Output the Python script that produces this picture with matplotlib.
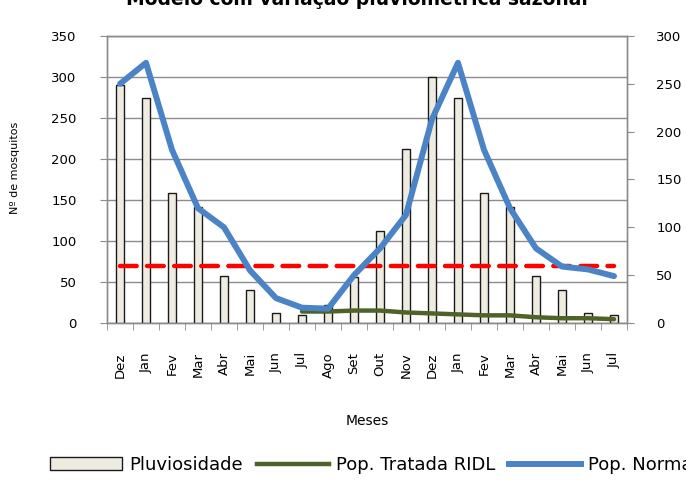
import numpy as np
import matplotlib
matplotlib.use("Agg")
import matplotlib.pyplot as plt
from matplotlib.patches import Patch
from matplotlib.lines import Line2D

# data
meses = ["Dez", "Jan", "Fev", "Mar", "Abr", "Mai", "Jun", "Jul", "Ago", "Set",
         "Out", "Nov", "Dez", "Jan", "Fev", "Mar", "Abr", "Mai", "Jun", "Jul"]
pluviosidade = [290, 274, 159, 142, 57, 40, 12, 10, 22, 56,
                112, 212, 300, 274, 159, 142, 57, 40, 12, 10]
pop_normal = [250, 272, 181, 120, 100, 55, 26, 16, 15, 50,
              78, 113, 213, 272, 181, 120, 78, 59, 56, 49]
ridl_meses = list(range(7, 20))
pop_ridl = [12, 12, 13, 13, 11, 10, 9, 8, 8, 6, 5, 5, 4]
limiar = 60

plt.rcParams["font.family"] = ["DejaVu Sans"]
plt.rcParams["lines.scale_dashes"] = False

W, H = 686, 480
fig = plt.figure(figsize=(W / 100, H / 100), dpi=100)
ax = fig.add_axes([107 / W, 1 - 323 / H, 520 / W, 287 / H])
ax2 = ax.twinx()

x = np.arange(len(meses))
ax.bar(x, pluviosidade, width=0.32, color="#EEECE1", edgecolor="#1a1a1a",
       linewidth=1.0, zorder=3, label="Pluviosidade")

ax.set_xlim(-0.5, len(meses) - 0.5)
ax.set_ylim(0, 350)
ax.set_yticks(range(0, 351, 50))
ax.grid(axis="y", color="#8c8c8c", linewidth=1.0, zorder=0)
ax.set_axisbelow(True)

ax2.set_ylim(0, 300)
ax2.set_yticks(range(0, 301, 50))

ax2.plot([0, len(meses) - 1], [limiar, limiar], color="#ff0000", linewidth=3.2,
         dashes=(12, 7.5), dash_capstyle="round", zorder=2)
ax2.plot(ridl_meses, pop_ridl, color="#4F6228", linewidth=3.2, zorder=3,
         solid_capstyle="round")
ax2.plot(x, pop_normal, color="#4A84C6", linewidth=4.3, zorder=4,
         solid_capstyle="round", solid_joinstyle="round")

for a in (ax, ax2):
    for s in a.spines.values():
        s.set_color("#8c8c8c")
        s.set_linewidth(1.0)

ax.set_xticks(x)
ax.set_xticklabels(meses, rotation=90, fontsize=9.5)
ax.set_xticks(np.arange(-0.5, len(meses), 1), minor=True)
ax.tick_params(axis="x", which="major", length=0, pad=21)
ax.tick_params(axis="x", which="minor", length=5, color="#8c8c8c", direction="out")
ax.tick_params(axis="y", length=5, color="#8c8c8c", pad=17, labelsize=9.5)
ax2.tick_params(axis="y", length=5, color="#8c8c8c", pad=16, labelsize=9.5)

fig.text(15 / W, 1 - 168 / H, "Nº de mosquitos", rotation=90, ha="center",
         va="center", fontsize=8)
fig.text(367 / W, 1 - 421 / H, "Meses", ha="center", va="center", fontsize=10)
fig.text(357 / W, 1 - 5 / H, "Modelo com variação pluviométrica sazonal",
         ha="center", va="baseline", fontsize=13.5, fontweight="bold")

handles = [
    Patch(facecolor="#EEECE1", edgecolor="#1a1a1a", linewidth=1.0, label="Pluviosidade"),
    Line2D([], [], color="#4F6228", linewidth=3.2, label="Pop. Tratada RIDL"),
    Line2D([], [], color="#4A84C6", linewidth=4.3, label="Pop. Normal"),
]
fig.legend(handles=handles, loc="center left", bbox_to_anchor=(50 / W, 1 - 465 / H),
           ncol=3, frameon=False, fontsize=13, handlelength=4.0,
           handletextpad=0.4, columnspacing=0.75, borderaxespad=0, borderpad=0)

fig.savefig("out.png", dpi=100)
